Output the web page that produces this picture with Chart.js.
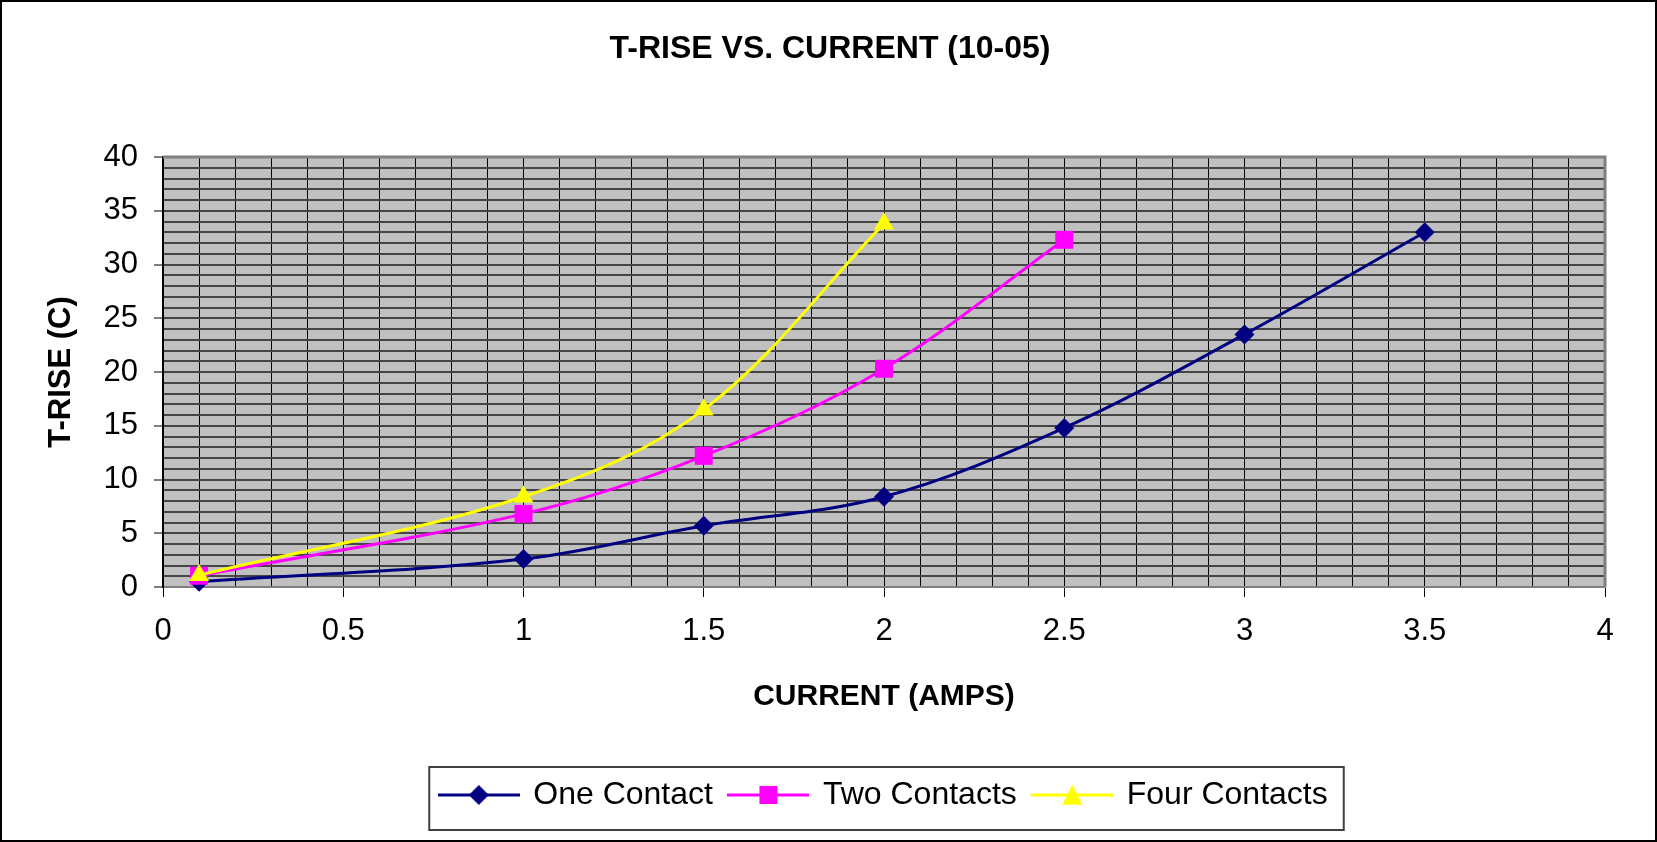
<!DOCTYPE html>
<html>
<head>
<meta charset="utf-8">
<script src="https://cdn.jsdelivr.net/npm/chart.js@4.4.1/dist/chart.umd.min.js"></script>
<style>
html,body{margin:0;padding:0;background:#fff;}
canvas{display:block;}
</style>
</head>
<body>
<canvas id="c" width="1657" height="842"></canvas>
<script>
// ---- data ----
const seriesNames = ['One Contact', 'Two Contacts', 'Four Contacts'];
const oneCurrent = [0.1, 1, 1.5, 2, 2.5, 3, 3.5];
const oneRise = [0.5, 2.6, 5.7, 8.4, 14.8, 23.5, 33.0];
const twoCurrent = [0.1, 1, 1.5, 2, 2.5];
const twoRise = [1.05, 6.8, 12.2, 20.3, 32.3];
const fourCurrent = [0.1, 1, 1.5, 2];
const fourRise = [1.1, 8.4, 16.5, 33.8];
const xTickLabels = ['0', '0.5', '1', '1.5', '2', '2.5', '3', '3.5', '4'];
const yTickLabels = ['0', '5', '10', '15', '20', '25', '30', '35', '40'];
const chartTitle = 'T-RISE VS. CURRENT (10-05)';
const xAxisTitle = 'CURRENT (AMPS)';
const yAxisTitle = 'T-RISE (C)';

const FONT = "'Liberation Sans', Arial, Helvetica, sans-serif";
const colors = ['#000080', '#FF00FF', '#FFFF00'];
const markers = ['rectRot', 'rect', 'triangle'];
const radii = [10, 12.7, 11.5];

function toPoints(xs, ys) { return xs.map((x, i) => ({x: x, y: ys[i]})); }

function drawMarker(ctx, style, x, y, r, color) {
  ctx.fillStyle = color;
  ctx.beginPath();
  if (style === 'rectRot') {
    ctx.moveTo(x, y - r); ctx.lineTo(x + r, y); ctx.lineTo(x, y + r); ctx.lineTo(x - r, y);
  } else if (style === 'rect') {
    const s = r * Math.SQRT1_2;
    ctx.rect(x - s, y - s, 2 * s, 2 * s);
  } else {
    const h = r * 1.5;
    ctx.moveTo(x, y - h / 2 - 2); ctx.lineTo(x + r * 0.87, y + h / 2 + 1); ctx.lineTo(x - r * 0.87, y + h / 2 + 1);
  }
  ctx.closePath();
  ctx.fill();
}

function legendIcon(i) {
  const cv = document.createElement('canvas');
  cv.width = 82; cv.height = 30;
  const c = cv.getContext('2d');
  c.strokeStyle = colors[i];
  c.lineWidth = 3;
  c.beginPath(); c.moveTo(0, 15); c.lineTo(82, 15); c.stroke();
  drawMarker(c, markers[i], 41, 15, radii[i], colors[i]);
  return cv;
}
const legendIcons = [0, 1, 2].map(legendIcon);

function isMultiple(v, step) {
  const q = v / step;
  return Math.abs(q - Math.round(q)) < 1e-6;
}

const decor = {
  id: 'decor',
  beforeDraw(chart) {
    const {ctx, chartArea: a} = chart;
    ctx.save();
    ctx.fillStyle = '#ffffff';
    ctx.fillRect(0, 0, chart.width, chart.height);
    ctx.fillStyle = '#C0C0C0';
    ctx.fillRect(a.left, a.top, a.right - a.left, a.bottom - a.top);
    ctx.restore();
  },
  beforeDatasetsDraw(chart) {
    const {ctx, chartArea: a} = chart;
    ctx.save();
    ctx.strokeStyle = '#808080';
    ctx.lineWidth = 3;
    ctx.beginPath();
    ctx.moveTo(a.left, a.top); ctx.lineTo(a.right, a.top); ctx.lineTo(a.right, a.bottom);
    ctx.stroke();
    ctx.restore();
  },
  afterDraw(chart) {
    const {ctx} = chart;
    const hb = chart.legend.legendHitBoxes;
    ctx.save();
    if (hb && hb.length) {
      const first = hb[0], last = hb[hb.length - 1];
      const l = first.left - 11;
      const r = last.left + last.width + 16;
      const t = first.top - 12;
      const b = first.top + first.height + 19;
      ctx.strokeStyle = '#404040';
      ctx.lineWidth = 2;
      ctx.strokeRect(l, t, r - l, b - t);
    }
    ctx.strokeStyle = '#000';
    ctx.lineWidth = 2;
    ctx.strokeRect(1, 1, chart.width - 2, chart.height - 2);
    ctx.restore();
  }
};

const data = {
  datasets: [
    {label: seriesNames[0], data: toPoints(oneCurrent, oneRise), order: 3},
    {label: seriesNames[1], data: toPoints(twoCurrent, twoRise), order: 2},
    {label: seriesNames[2], data: toPoints(fourCurrent, fourRise), order: 1}
  ].map((d, i) => Object.assign(d, {
    borderColor: colors[i],
    backgroundColor: colors[i],
    pointBackgroundColor: colors[i],
    pointBorderColor: colors[i],
    pointBorderWidth: 0,
    pointStyle: markers[i],
    pointRadius: radii[i],
    pointHoverRadius: radii[i],
    borderWidth: 3,
    tension: 0.35,
    showLine: true,
    clip: false
  }))
};

new Chart(document.getElementById('c'), {
  type: 'scatter',
  data: data,
  plugins: [decor],
  options: {
    responsive: false,
    animation: false,
    events: [],
    layout: {padding: {left: 55, right: 52, top: 0, bottom: 21}},
    plugins: {
      tooltip: {enabled: false},
      title: {
        display: true,
        text: chartTitle,
        color: '#000',
        font: {family: FONT, size: 32, weight: 'bold'},
        padding: {top: 30, bottom: 88.6}
      },
      legend: {
        display: true,
        position: 'bottom',
        fullSize: false,
        labels: {
          color: '#000',
          font: {family: FONT, size: 32},
          padding: 17,
          usePointStyle: true,
          pointStyleWidth: 77,
          generateLabels(chart) {
            return chart.data.datasets.map((ds, i) => ({
              text: ds.label,
              pointStyle: legendIcons[i],
              datasetIndex: i,
              hidden: false,
              lineWidth: 0,
              strokeStyle: 'rgba(0,0,0,0)',
              fillStyle: 'rgba(0,0,0,0)',
              fontColor: '#000'
            }));
          }
        }
      }
    },
    scales: {
      x: {
        type: 'linear',
        min: 0, max: 4,
        afterFit(scale) { scale.height = 175; },
        ticks: {
          stepSize: 0.1,
          autoSkip: false,
          maxRotation: 0,
          minRotation: 0,
          padding: 16,
          color: '#000',
          font: {family: FONT, size: 31},
          callback(v) { return isMultiple(v, 0.5) ? xTickLabels[Math.round(v * 2)] : ''; }
        },
        grid: {
          color: '#000',
          lineWidth: 1,
          tickLength: 10,
          tickWidth: 1,
          tickColor: (ctx) => (ctx.tick && isMultiple(ctx.tick.value, 0.5)) ? '#000' : 'rgba(0,0,0,0)'
        },
        border: {display: true, color: '#808080', width: 2},
        title: {
          display: true,
          text: xAxisTitle,
          color: '#000',
          font: {family: FONT, size: 30, weight: 'bold'},
          padding: {top: 0, bottom: 47}
        }
      },
      y: {
        type: 'linear',
        min: 0, max: 40,
        afterFit(scale) { scale.width = 108; },
        ticks: {
          stepSize: 1,
          autoSkip: false,
          padding: 16,
          color: '#000',
          font: {family: FONT, size: 31},
          callback(v) { return isMultiple(v, 5) ? yTickLabels[Math.round(v / 5)] : ''; }
        },
        grid: {
          color: '#454545',
          lineWidth: 2,
          tickLength: 9,
          tickWidth: 1,
          tickColor: (ctx) => (ctx.tick && isMultiple(ctx.tick.value, 5)) ? '#000' : 'rgba(0,0,0,0)'
        },
        border: {display: true, color: '#000', width: 2},
        title: {
          display: true,
          text: yAxisTitle,
          color: '#000',
          font: {family: FONT, size: 31, weight: 'bold'},
          padding: {top: -12, bottom: 0}
        }
      }
    }
  }
});
</script>
</body>
</html>
